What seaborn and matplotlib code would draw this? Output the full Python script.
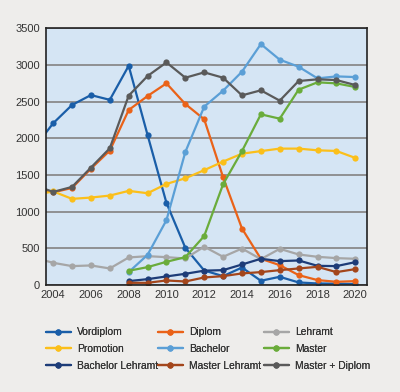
"""
Absolventenzahlen nach Abschlussart, 2003-2020
"""
import numpy as np
import pandas as pd
import matplotlib
matplotlib.use("Agg")
import matplotlib.pyplot as plt
import seaborn as sns

# --- data ---
years = list(range(2003, 2021))
years_new = list(range(2008, 2021))

vordiplom = [1870, 2205, 2455, 2590, 2525, 2990, 2045, 1118, 505, 195,
             118, 236, 55, 109, 32, 18, 15, 10]
diplom = [1300, 1262, 1322, 1585, 1832, 2386, 2577, 2750, 2468, 2259,
          1468, 768, 355, 268, 132, 64, 41, 50]
lehramt = [370, 300, 255, 264, 223, 373, 391, 377, 359, 520,
           382, 495, 350, 491, 414, 382, 364, 355]
promotion = [1225, 1275, 1173, 1191, 1218, 1282, 1250, 1377, 1454, 1565,
             1682, 1790, 1825, 1859, 1859, 1836, 1827, 1732]
master_diplom = [1360, 1268, 1336, 1600, 1864, 2582, 2850, 3036, 2827, 2900,
                 2827, 2586, 2655, 2514, 2782, 2805, 2795, 2727]

bachelor = [173, 409, 882, 1813, 2432, 2650, 2909, 3286, 3073, 2977,
            2818, 2845, 2836]
master = [191, 241, 314, 377, 666, 1373, 1825, 2327, 2268, 2664,
          2764, 2750, 2700]
bachelor_lehramt = [50, 77, 114, 150, 193, 200, 277, 355, 323, 332,
                    259, 255, 309]
master_lehramt = [27, 27, 59, 45, 100, 118, 155, 173, 200, 223,
                  245, 173, 214]

series = [
    ("Vordiplom", years, vordiplom, "#1a5ea8"),
    ("Diplom", years, diplom, "#ea6218"),
    ("Lehramt", years, lehramt, "#a6a6a6"),
    ("Promotion", years, promotion, "#fbbf1a"),
    ("Bachelor", years_new, bachelor, "#5b9fd6"),
    ("Master", years_new, master, "#6aac3b"),
    ("Bachelor Lehramt", years_new, bachelor_lehramt, "#1d3c78"),
    ("Master Lehramt", years_new, master_lehramt, "#a3461c"),
    ("Master + Diplom", years, master_diplom, "#5a5a5a"),
]

sns.set_style("white")
plt.rcParams["font.family"] = ["Liberation Sans", "DejaVu Sans"]

fig = plt.figure(figsize=(4.0, 3.92), dpi=100, facecolor="#eeedeb")
ax = fig.add_axes([0.114, 0.2735, 0.8025, 0.654])
ax.set_facecolor("#d5e5f4")

handles = {}
for name, x, y, color in series:
    df = pd.DataFrame({"Jahr": x, "Anzahl": y})
    sns.lineplot(data=df, x="Jahr", y="Anzahl", ax=ax, color=color,
                 marker="o", markersize=4.5, markeredgewidth=0,
                 linewidth=1.6, label=name, legend=False)
    handles[name] = ax.lines[-1]

ax.set_xlim(2003.6, 2020.6)
ax.set_ylim(0, 3500)
ax.set_xticks(range(2004, 2021, 2))
ax.set_yticks(range(0, 3501, 500))
ax.yaxis.grid(True, color="#8a8a8a", linewidth=1.3)
ax.xaxis.grid(False)
ax.set_axisbelow(True)
ax.set_xlabel("")
ax.set_ylabel("")
ax.tick_params(length=0, labelsize=8, colors="#333333", pad=4)
for s in ax.spines.values():
    s.set_color("#222222")
    s.set_linewidth(1.2)

# one legend per column so the columns sit where the original has them
columns = [
    (0.115, ["Vordiplom", "Promotion", "Bachelor Lehramt"]),
    (0.395, ["Diplom", "Bachelor", "Master Lehramt"]),
    (0.66, ["Lehramt", "Master", "Master + Diplom"]),
]
for xpos, names in columns:
    leg = fig.legend([handles[n] for n in names], names,
                     loc="center left", bbox_to_anchor=(xpos, 0.1097),
                     borderpad=0, borderaxespad=0,
                     frameon=False, fontsize=7.4, handlelength=2.4,
                     handletextpad=0.6, labelspacing=0.65,
                     labelcolor="#333333")
    fig.add_artist(leg)

plt.savefig("out.png", dpi=100, facecolor=fig.get_facecolor())
